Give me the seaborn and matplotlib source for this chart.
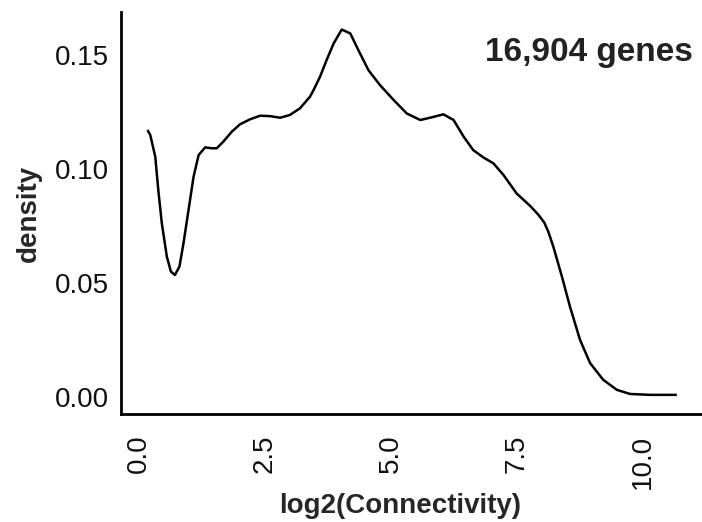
import matplotlib
matplotlib.use("Agg")
import matplotlib.pyplot as plt
import seaborn as sns
import pandas as pd

# data
log2_connectivity = [0.165, 0.22, 0.32, 0.38, 0.45, 0.55, 0.63, 0.71, 0.80, 0.88, 0.98, 1.08,
                     1.18, 1.31, 1.44, 1.54, 1.67, 1.84, 2.00, 2.20, 2.40, 2.60, 2.80, 2.99,
                     3.19, 3.39, 3.46, 3.59, 3.72, 3.86, 4.02, 4.19, 4.35, 4.55, 4.78, 5.05,
                     5.31, 5.58, 5.81, 6.04, 6.24, 6.44, 6.63, 6.83, 7.03, 7.23, 7.49, 7.76,
                     7.92, 8.04, 8.12, 8.22, 8.39, 8.55, 8.75, 8.95, 9.21, 9.48, 9.74, 10.14,
                     10.67]
density = [0.1171, 0.1150, 0.1054, 0.0908, 0.0762, 0.0615, 0.055, 0.0535, 0.0572, 0.0674,
           0.082, 0.0966, 0.1061, 0.1095, 0.1091, 0.1091, 0.112, 0.1164, 0.1196, 0.1218,
           0.1234, 0.1232, 0.1225, 0.1237, 0.1266, 0.1317, 0.1346, 0.1405, 0.1478, 0.1551,
           0.1612, 0.1595, 0.1522, 0.1434, 0.1368, 0.1303, 0.1244, 0.1215, 0.1227, 0.124,
           0.1215, 0.1142, 0.1083, 0.1051, 0.1025, 0.0974, 0.0893, 0.0838, 0.0800, 0.0765,
           0.0725, 0.0659, 0.0528, 0.0396, 0.025, 0.0148, 0.0075, 0.0031, 0.0013, 0.0009,
           0.0009]
x_ticks = [0.0, 2.5, 5.0, 7.5, 10.0]
x_tick_labels = ["0.0", "2.5", "5.0", "7.5", "10.0"]
y_ticks = [0.00, 0.05, 0.10, 0.15]
y_tick_labels = ["0.00", "0.05", "0.10", "0.15"]
annotation = "16,904 genes"

df = pd.DataFrame({"x": log2_connectivity, "density": density})

sns.set_style("white")
plt.rcParams["font.family"] = ["Liberation Sans", "DejaVu Sans"]

fig = plt.figure(figsize=(7.02, 5.22), dpi=100)
ax = fig.add_axes([121 / 702, 1 - 414 / 522, 1 - 121 / 702, (414 - 12) / 522])

sns.lineplot(data=df, x="x", y="density", ax=ax, color="black", linewidth=1.8, sort=False,
             solid_joinstyle="round", solid_capstyle="butt")

ax.set_xlim(-0.36, 11.17)
ax.set_ylim(-0.0075, 0.1689)

ax.set_xticks(x_ticks)
ax.set_xticklabels(x_tick_labels, rotation=90, fontsize=20, color="#111111")
ax.set_yticks(y_ticks)
ax.set_yticklabels(y_tick_labels, fontsize=20, color="#111111")
ax.tick_params(axis="both", length=0)
ax.tick_params(axis="x", pad=15)
ax.tick_params(axis="y", pad=9)

ax.set_xlabel("log2(Connectivity)", fontsize=20, fontweight="bold")
ax.set_ylabel("density", fontsize=20, fontweight="bold")
ax.xaxis.set_label_coords(0.48, -0.197)
ax.yaxis.set_label_coords(-0.136, 0.5)

for side in ["top", "right"]:
    ax.spines[side].set_visible(False)
for side in ["left", "bottom"]:
    ax.spines[side].set_color("black")
    ax.spines[side].set_linewidth(2.0)

ax.text(10.99, 0.1513, annotation, ha="right", va="center", fontsize=24,
        fontweight="bold", color="#222222")

fig.savefig("out.png", dpi=100)
